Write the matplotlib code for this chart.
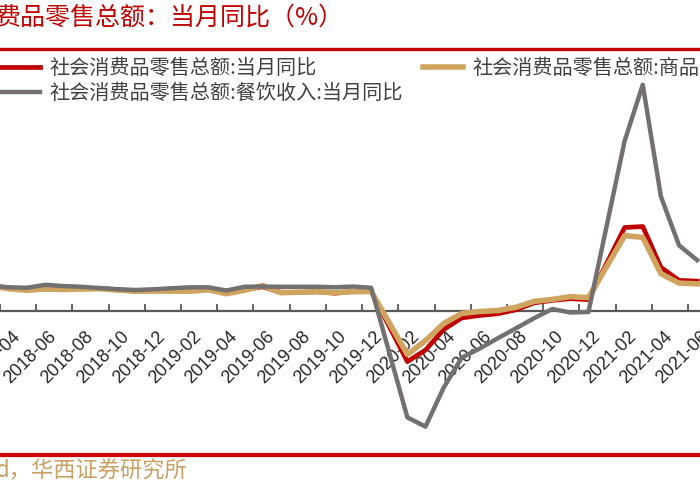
import matplotlib
matplotlib.use("Agg")
import matplotlib.pyplot as plt
from matplotlib.lines import Line2D

plt.rcParams['font.family'] = ['Noto Sans CJK SC', 'DejaVu Sans']

# 月度数据（1月与2月合并公布，故无1月数据）
months = ['2018-03', '2018-04', '2018-05', '2018-06', '2018-07', '2018-08',
          '2018-09', '2018-10', '2018-11', '2018-12',
          '2019-02', '2019-03', '2019-04', '2019-05', '2019-06', '2019-07',
          '2019-08', '2019-09', '2019-10', '2019-11', '2019-12',
          '2020-02', '2020-03', '2020-04', '2020-05', '2020-06', '2020-07',
          '2020-08', '2020-09', '2020-10', '2020-11', '2020-12',
          '2021-02', '2021-03', '2021-04', '2021-05', '2021-06']
total = [10.1, 9.4, 8.5, 9.0, 8.8, 9.0, 9.2, 8.6, 8.1, 8.2,
         8.2, 8.7, 7.2, 8.6, 9.8, 7.6, 7.5, 7.8, 7.2, 8.0, 8.0,
         -20.5, -15.8, -7.5, -2.8, -1.8, -1.1, 0.5, 3.3, 4.3, 5.0, 4.6,
         33.8, 34.2, 17.7, 12.4, 12.1]
goods = [10.1, 9.0, 8.4, 8.9, 8.7, 8.9, 9.0, 8.5, 8.0, 8.1,
         8.0, 8.6, 7.0, 8.4, 10.3, 7.4, 7.6, 7.8, 7.4, 7.8, 7.9,
         -17.6, -12.0, -5.1, -1.0, -0.2, 0.2, 1.5, 3.9, 4.7, 5.8, 5.4,
         30.5, 29.8, 15.1, 11.3, 11.0]
catering = [10.1, 9.6, 9.4, 10.6, 10.1, 9.8, 9.3, 8.8, 8.5, 8.8,
            9.6, 9.6, 8.3, 9.8, 9.9, 9.8, 9.8, 9.8, 9.6, 9.9, 9.4,
            -43.1, -46.8, -31.1, -18.9, -15.2, -11.0, -7.0, -2.9, 0.8, -0.6, -0.4,
            68.9, 91.6, 46.4, 26.6, 20.6]
tick_months = ['2018-04', '2018-06', '2018-08', '2018-10', '2018-12',
               '2019-02', '2019-04', '2019-06', '2019-08', '2019-10', '2019-12',
               '2020-02', '2020-04', '2020-06', '2020-08', '2020-10', '2020-12',
               '2021-02', '2021-04', '2021-06']


def month_index(s):
    y, m = s.split('-')
    return (int(y) - 2018) * 12 + int(m) - 6


x = [month_index(m) for m in months]
xt = [month_index(m) for m in tick_months]

fig = plt.figure(figsize=(7, 5), dpi=100)
ax = fig.add_axes([0, 0, 1, 1])
ax.patch.set_alpha(0)

l_red, = ax.plot(x, total, color='#C00000', lw=3.4, label='社会消费品零售总额:当月同比', zorder=3)
l_gold, = ax.plot(x, goods, color='#CFA45E', lw=4.0, label='社会消费品零售总额:商品零售:当月同比', zorder=4)
l_gray, = ax.plot(x, catering, color='#747070', lw=3.2, label='社会消费品零售总额:餐饮收入:当月同比', zorder=5)

# 像素比例：每月18.5px，每1%约2.47px，0轴位于y=311px
ax.set_xlim(-40 / 18.5, 660 / 18.5)
ax.set_ylim(-189 / 2.47, 311 / 2.47)

for s in ['top', 'left', 'right']:
    ax.spines[s].set_visible(False)
ax.spines['bottom'].set_position(('data', 0))
ax.spines['bottom'].set_color('#595959')
ax.spines['bottom'].set_linewidth(1.6)
ax.spines['bottom'].set_zorder(2)
ax.set_yticks([])

ax.set_xticks([v + 0.16 for v in xt])
ax.set_xticklabels(tick_months, rotation=45, ha='right', va='top',
                   rotation_mode='anchor', fontsize=13, color='#262626',
                   family=['Liberation Sans'])
ax.tick_params(axis='x', which='major', length=0, pad=12)
ax.set_xticks([v - 0.5 for v in xt], minor=True)
ax.tick_params(axis='x', which='minor', direction='in', length=5,
               width=1.3, color='#595959')

fig.legend(handles=[l_red, l_gray, l_gold], ncol=2, loc='upper left',
           bbox_to_anchor=(0.0, 0.884), frameon=False, fontsize=14.5,
           handlelength=2.0, handletextpad=0.45, columnspacing=1.0,
           labelspacing=0.2, borderpad=0, borderaxespad=0,
           labelcolor='#404040')

fig.text(-4 / 700, 1 - 18 / 500, '费品零售总额：当月同比（%）', fontsize=18,
         color='#C00000', va='center', ha='left')
fig.text(-4 / 700, 1 - 471 / 500, 'd，华西证券研究所', fontsize=16,
         color='#C9A063', va='center', ha='left')

fig.add_artist(Line2D([0, 1], [1 - 49 / 500] * 2, transform=fig.transFigure,
                      color='#C00000', lw=2.4))
fig.add_artist(Line2D([0, 1], [1 - 454.5 / 500] * 2, transform=fig.transFigure,
                      color='#D00000', lw=3.0))

fig.savefig('out.png', dpi=100)
